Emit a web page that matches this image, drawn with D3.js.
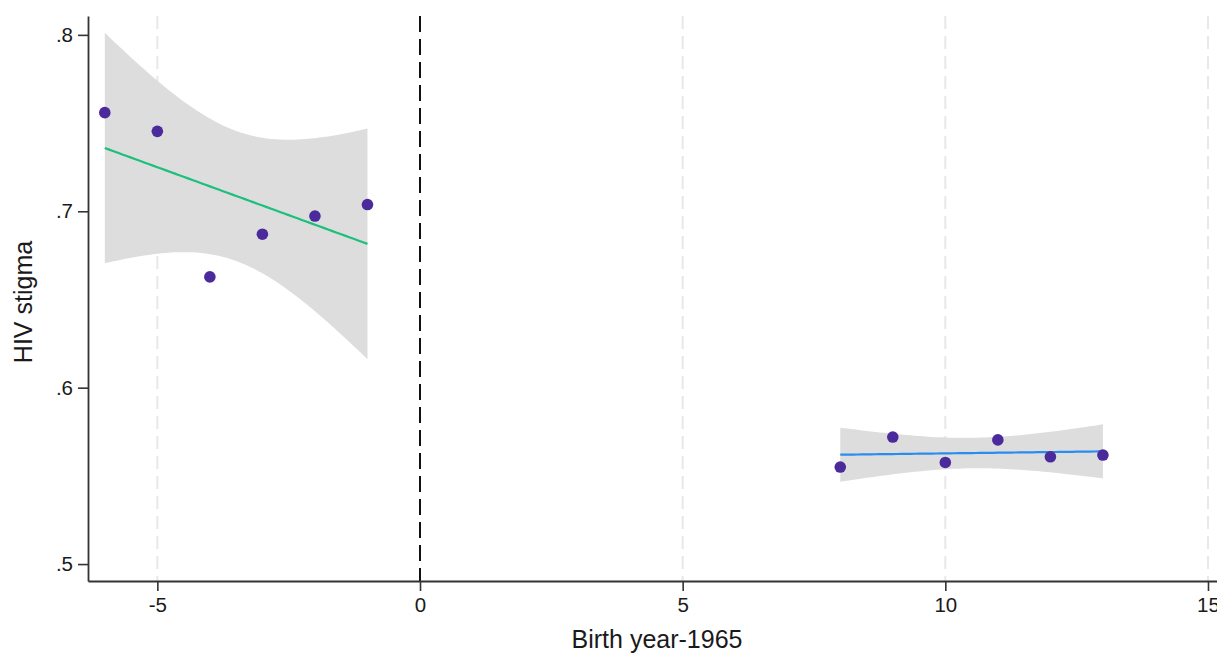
<!DOCTYPE html>
<html>
<head>
<meta charset="utf-8">
<script src="https://cdn.jsdelivr.net/npm/d3@7"></script>
<style>
  body { margin: 0; background: #fff; }
  text { font-family: "Liberation Sans", Arial, sans-serif; fill: #1a1a1a; }
</style>
</head>
<body>
<div id="chart"></div>
<script>
// cohorts before and after 1965 (birth year - 1965), mean HIV stigma per cohort
const preYears = [-6, -5, -4, -3, -2, -1];
const preStigma = [0.7559, 0.7453, 0.6628, 0.6870, 0.6973, 0.7038];
const postYears = [8, 9, 10, 11, 12, 13];
const postStigma = [0.5550, 0.5720, 0.5576, 0.5704, 0.5608, 0.5618];

const xTicks = [-5, 0, 5, 10, 15];
const yTicks = [0.5, 0.6, 0.7, 0.8];
const gridTicks = [-5, 5, 10, 15];
const cutoff = 0;

const W = 1217, H = 653;
const x = d3.scaleLinear().domain([-6.32, 15.4]).range([88, 1229]);
const y = d3.scaleLinear().domain([0.4904, 0.8107]).range([581, 16]);

const svg = d3.select("#chart").append("svg")
  .attr("width", W)
  .attr("height", H);

// linear fit with 95% CI, like Stata lfitci
function lfitci(xs, ys) {
  const n = xs.length;
  const mx = d3.mean(xs), my = d3.mean(ys);
  const sxx = d3.sum(xs, v => (v - mx) ** 2);
  const sxy = d3.sum(xs.map((v, i) => (v - mx) * (ys[i] - my)));
  const b = sxy / sxx, a = my - b * mx;
  const ssr = d3.sum(xs.map((v, i) => (ys[i] - a - b * v) ** 2));
  const s = Math.sqrt(ssr / (n - 2));
  const t = 2.776; // t(0.975, df=4)
  const lo = d3.min(xs), hi = d3.max(xs);
  return d3.range(0, 61).map(k => {
    const xv = lo + (hi - lo) * k / 60;
    const fit = a + b * xv;
    const half = t * s * Math.sqrt(1 / n + (xv - mx) ** 2 / sxx);
    return {x: xv, fit: fit, lo: fit - half, hi: fit + half};
  });
}

// gridlines
svg.append("g").selectAll("line")
  .data(gridTicks)
  .enter().append("line")
  .attr("x1", d => x(d)).attr("x2", d => x(d))
  .attr("y1", 16).attr("y2", 581)
  .attr("stroke", "#e8e8e8")
  .attr("stroke-width", 2)
  .attr("stroke-dasharray", "13,7");

const groups = [
  {xs: preYears, ys: preStigma, color: "#1dbf7c"},
  {xs: postYears, ys: postStigma, color: "#2a8cf0"}
];

groups.forEach(g => {
  const f = lfitci(g.xs, g.ys);
  svg.append("path")
    .datum(f)
    .attr("fill", "#dddddd")
    .attr("d", d3.area().x(d => x(d.x)).y0(d => y(d.lo)).y1(d => y(d.hi)));
  svg.append("path")
    .datum(f)
    .attr("fill", "none")
    .attr("stroke", g.color)
    .attr("stroke-width", 2.2)
    .attr("d", d3.line().x(d => x(d.x)).y(d => y(d.fit)));
});

// cutoff line
svg.append("line")
  .attr("x1", x(cutoff)).attr("x2", x(cutoff))
  .attr("y1", 16).attr("y2", 581)
  .attr("stroke", "#111")
  .attr("stroke-width", 2)
  .attr("stroke-dasharray", "16,7");

// points
groups.forEach(g => {
  svg.append("g").selectAll("circle")
    .data(g.xs.map((v, i) => [v, g.ys[i]]))
    .enter().append("circle")
    .attr("cx", d => x(d[0]))
    .attr("cy", d => y(d[1]))
    .attr("r", 5.8)
    .attr("fill", "#4b2a9c");
});

// axes
const xAxis = svg.append("g")
  .attr("transform", "translate(0,581)")
  .call(d3.axisBottom(x).tickValues(xTicks).tickSize(10).tickSizeOuter(0).tickPadding(6)
    .tickFormat(d => String(d)));
const yAxis = svg.append("g")
  .attr("transform", "translate(88,0)")
  .call(d3.axisLeft(y).tickValues(yTicks).tickSize(10).tickSizeOuter(0).tickPadding(5)
    .tickFormat(d => d3.format(".1f")(d).replace(/^0/, "")));

[xAxis, yAxis].forEach(a => {
  a.select(".domain").attr("stroke", "#333").attr("stroke-width", 1.8);
  a.selectAll(".tick line").attr("stroke", "#333").attr("stroke-width", 1.6);
  a.selectAll(".tick text").attr("font-size", 20.5).attr("fill", "#1a1a1a")
    .style("font-family", "'Liberation Sans', Arial, sans-serif");
});

// axis titles
svg.append("text")
  .attr("x", 657).attr("y", 648)
  .attr("text-anchor", "middle")
  .attr("font-size", 25)
  .text("Birth year-1965");

svg.append("text")
  .attr("transform", "translate(32,302) rotate(-90)")
  .attr("text-anchor", "middle")
  .attr("font-size", 25)
  .text("HIV stigma");
</script>
</body>
</html>
